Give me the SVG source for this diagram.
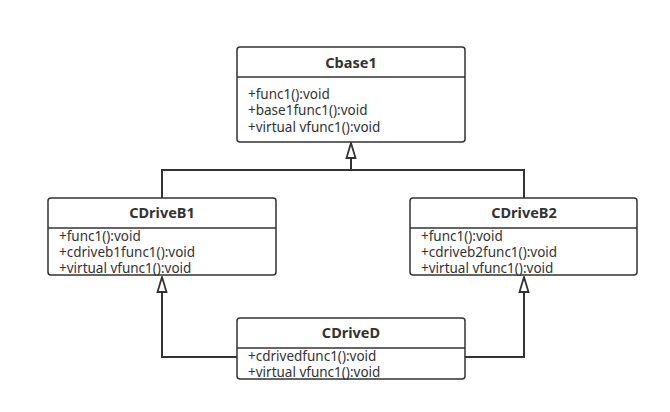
<svg xmlns="http://www.w3.org/2000/svg" width="670" height="412" viewBox="0 0 670 412">
<defs>
<style>
.box{fill:#fff;stroke:#333;stroke-width:1.5}
.div{stroke:#333;stroke-width:1.5}
.t{font-family:"Noto Sans","Open Sans",sans-serif;font-size:14.5px;font-weight:bold;fill:#333;text-anchor:middle}
.m{font-family:"Noto Sans","Open Sans",sans-serif;font-size:13.5px;fill:#333}
.c{fill:none;stroke:#333;stroke-width:2}
</style>
<marker id="tri" viewBox="0 0 18 12" refX="16.5" refY="6" markerWidth="18" markerHeight="12" markerUnits="userSpaceOnUse" orient="auto">
<path d="M16.5,6 L1.5,1.5 L1.5,10.5 Z" fill="#fff" stroke="#333" stroke-width="1.8" stroke-linejoin="miter"/>
</marker>
</defs>
<rect width="670" height="412" fill="#fff"/>
<g id="connectors">
<path class="c" d="M162,198 V170 H524 V198"/>
<path class="c" d="M351,170 V143" marker-end="url(#tri)"/>
<path class="c" d="M237,357 H162 V277" marker-end="url(#tri)"/>
<path class="c" d="M464,357 H524 V277" marker-end="url(#tri)"/>
</g>
<g id="Cbase1">
<rect class="box" x="237" y="47" width="228" height="95" rx="3"/>
<line class="div" x1="237" y1="77" x2="465" y2="77"/>
<text class="t" x="351" y="68">Cbase1</text>
<text class="m" x="248" y="99">+func1():void</text>
<text class="m" x="248" y="115">+base1func1():void</text>
<text class="m" x="248" y="132">+virtual vfunc1():void</text>
</g>
<g id="CDriveB1">
<rect class="box" x="48" y="198" width="228" height="77" rx="3"/>
<line class="div" x1="48" y1="228" x2="276" y2="228"/>
<text class="t" x="162" y="218">CDriveB1</text>
<text class="m" x="59" y="241">+func1():void</text>
<text class="m" x="59" y="257">+cdriveb1func1():void</text>
<text class="m" x="59" y="273">+virtual vfunc1():void</text>
</g>
<g id="CDriveB2">
<rect class="box" x="410" y="198" width="227" height="77" rx="3"/>
<line class="div" x1="410" y1="228" x2="637" y2="228"/>
<text class="t" x="524" y="218">CDriveB2</text>
<text class="m" x="421" y="241">+func1():void</text>
<text class="m" x="421" y="257">+cdriveb2func1():void</text>
<text class="m" x="421" y="273">+virtual vfunc1():void</text>
</g>
<g id="CDriveD">
<rect class="box" x="237" y="318" width="228" height="61" rx="3"/>
<line class="div" x1="237" y1="348" x2="465" y2="348"/>
<text class="t" x="351" y="338">CDriveD</text>
<text class="m" x="248" y="361">+cdrivedfunc1():void</text>
<text class="m" x="248" y="377">+virtual vfunc1():void</text>
</g>
</svg>
